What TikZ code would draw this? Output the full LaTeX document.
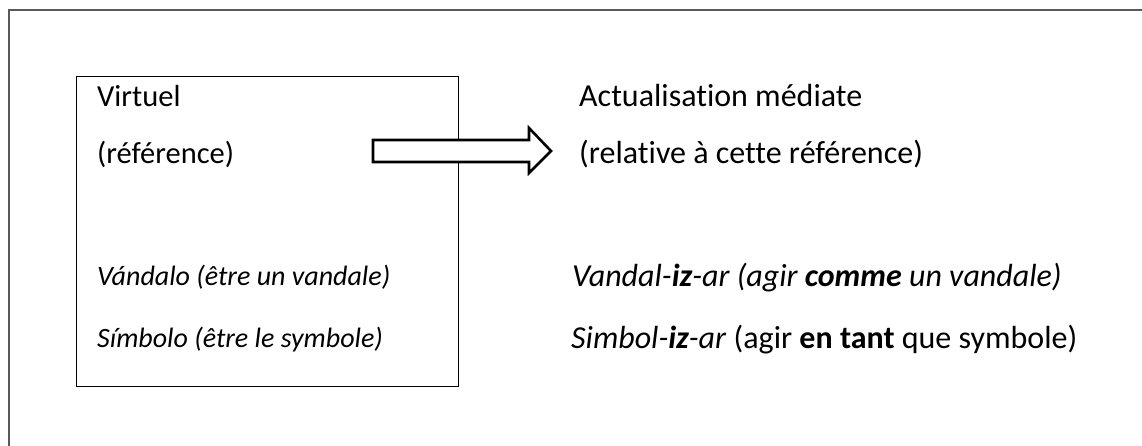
\documentclass[tikz,border=0pt]{standalone}
\usepackage{fontspec}
\setmainfont{Carlito}[Ligatures={NoCommon}]
\begin{document}
\begin{tikzpicture}[x=1pt,y=-1pt,
  frame/.style={draw=black!65,line width=2pt},
  boxline/.style={draw=black,line width=1.4pt},
  lefttxt/.style={anchor=base west,inner sep=0pt,font=\fontsize{30.5}{36}\selectfont},
  leftital/.style={anchor=base west,inner sep=0pt,font=\fontsize{28}{34}\selectfont\itshape},
  righttxt/.style={anchor=base west,inner sep=0pt,font=\fontsize{32}{38}\selectfont},
  blockarrow/.style={draw=black,fill=white,line width=2.6pt,line join=miter}]
\useasboundingbox (0,0) rectangle (1142,446);
% outer frame (only top and left edges visible)
\coordinate (fbl) at (9,446);
\coordinate (ftl) at (9,10);
\coordinate (ftr) at (1142,10);
\draw[frame] (fbl) -- (ftl) -- (ftr);
% inner box
\node[boxline,rectangle,minimum width=382pt,minimum height=310pt,inner sep=0pt,anchor=north west] (box) at (76,76) {};
% texts left
\node[lefttxt] (virt) at (97,107) {Virtuel};
\node[lefttxt] (ref) at (97,164) {(référence)};
\node[leftital] (vand) at (97,285) {Vándalo (être un vandale)};
\node[leftital] (simb) at (97,347) {Símbolo (être le symbole)};
% texts right
\node[righttxt] (act) at (579,107) {Actualisation médiate};
\node[righttxt] (rel) at (579,164) {(relative à cette référence)};
\node[righttxt] (vandiz) at (572,286) {\itshape Vandal-\textbf{iz}-ar (agir \textbf{comme} un vandale)};
\node[righttxt] (simbiz) at (571,348) {\textit{Simbol-\textbf{iz}-ar} (agir \textbf{en tant} que symbole)};
% block arrow
\draw[blockarrow] (373,140) -- (529,140) -- (529,128) -- (551,151) -- (529,173) -- (529,162) -- (373,162) -- cycle;
\end{tikzpicture}
\end{document}
